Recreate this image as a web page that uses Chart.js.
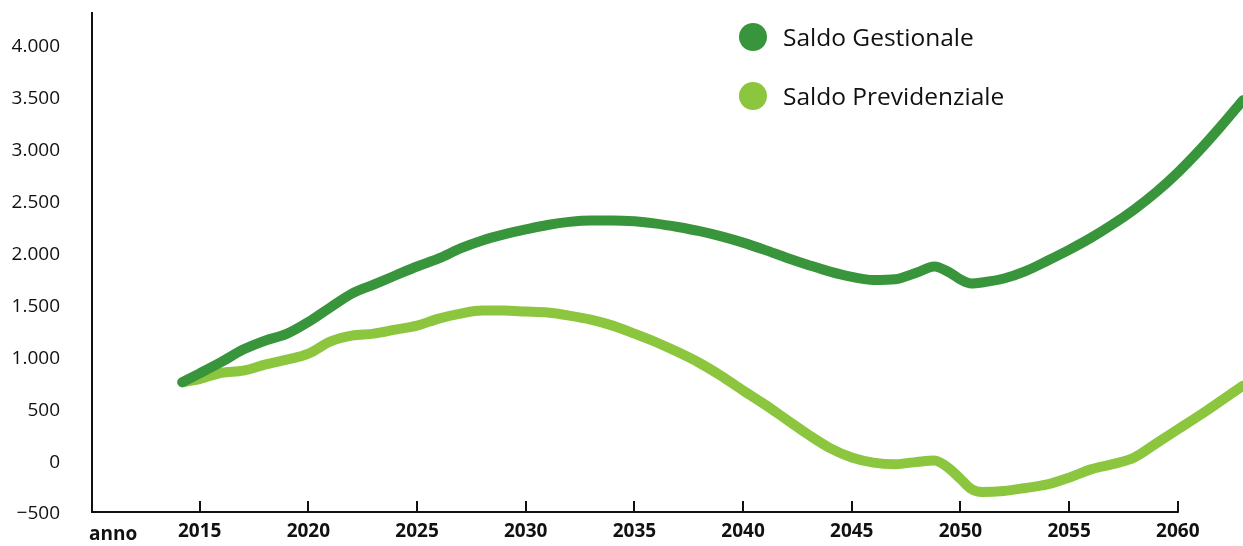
<!DOCTYPE html>
<html lang="it">
<head>
<meta charset="utf-8">
<title>Saldo Gestionale e Previdenziale</title>
<script src="https://cdn.jsdelivr.net/npm/chart.js@4/dist/chart.umd.min.js"></script>
<style>
  html, body { margin: 0; padding: 0; background: #fff; }
  #wrap { position: relative; width: 1243px; height: 546px; }
  #chart { position: absolute; left: 0; top: 0; }
  .legend { position: absolute; left: 739px; top: 22px; font-family: "Open Sans", sans-serif; font-size: 24.5px; color: #111; }
  .legend div { height: 59px; display: flex; align-items: flex-start; }
  .legend span.dot { width: 28px; height: 28px; border-radius: 50%; display: inline-block; margin-right: 16px; margin-top: 1px; }
  .legend span.txt { line-height: 30px; }
  #anno { position: absolute; left: 89px; top: 520px; font-family: "Open Sans", sans-serif; font-size: 19px; font-weight: 700; color: #111; }
</style>
</head>
<body>
<div id="wrap">
  <canvas id="chart" width="1243" height="546"></canvas>
  <div class="legend" id="legend"></div>
  <div id="anno">anno</div>
</div>
<script>
document.addEventListener('DOMContentLoaded', function () {
  // dati
  const years = [2014.2, 2015, 2016, 2017, 2018, 2019, 2020, 2021, 2022, 2023, 2024,
    2025, 2026, 2027, 2028, 2029, 2030, 2031, 2032, 2033, 2034, 2035, 2036, 2037,
    2038, 2039, 2040, 2041, 2042, 2043, 2044, 2045, 2046, 2047, 2048, 2048.8,
    2049.5, 2050, 2050.5, 2051, 2052, 2053, 2054, 2055, 2056, 2057, 2058, 2059,
    2060, 2061, 2062, 2063];

  const saldoGestionale = [770, 855, 965, 1084, 1170, 1235, 1350, 1489, 1624, 1711, 1798,
    1885, 1962, 2059, 2136, 2194, 2242, 2285, 2315, 2329, 2329, 2320, 2298, 2265,
    2225, 2175, 2115, 2045, 1970, 1900, 1835, 1785, 1755, 1762, 1827, 1885,
    1827, 1760, 1721, 1731, 1769, 1840, 1940, 2045, 2160, 2290, 2435, 2600,
    2790, 3005, 3240, 3488];

  const saldoPrevidenziale = [770, 800, 861, 881, 939, 987, 1045, 1161, 1219, 1238, 1277,
    1315, 1383, 1431, 1460, 1460, 1451, 1441, 1412, 1373, 1315, 1238, 1155, 1060,
    955, 830, 690, 555, 410, 265, 135, 45, -5, -20, 2, 15,
    -65, -162, -259, -288, -278, -249, -215, -150, -70, -20, 45, 180,
    315, 450, 593, 736];

  const xTicks = [2015, 2020, 2025, 2030, 2035, 2040, 2045, 2050, 2055, 2060];
  const yTicks = [-500, 0, 500, 1000, 1500, 2000, 2500, 3000, 3500, 4000];

  const seriesNames = ['Saldo Gestionale', 'Saldo Previdenziale'];
  const seriesColors = ['#39953b', '#8cc63f'];

  // legenda in html
  const legendDiv = document.getElementById('legend');
  legendDiv.innerHTML = seriesNames.map((name, i) => `
    <div><span class="dot" style="background:${seriesColors[i]}"></span><span class="txt">${name}</span></div>
  `).join('');

  const toPoints = (vals) => vals.map((v, i) => ({ x: years[i], y: v }));

  // assi disegnati a mano: linea y intera, linea x fino al 2060, tacche verso l'alto
  const axesPlugin = {
    id: 'axes',
    afterDatasetsDraw(chart) {
      const { ctx, chartArea, scales } = chart;
      const left = chartArea.left + 1;
      const bottom = chartArea.bottom - 2;
      ctx.save();
      ctx.strokeStyle = '#111';
      ctx.lineWidth = 2;
      ctx.beginPath();
      ctx.moveTo(left, chartArea.top);
      ctx.lineTo(left, bottom);
      ctx.lineTo(scales.x.getPixelForValue(xTicks[xTicks.length - 1]) + 1, bottom);
      xTicks.forEach(t => {
        const px = Math.round(scales.x.getPixelForValue(t));
        ctx.moveTo(px, bottom);
        ctx.lineTo(px, bottom - 11);
      });
      ctx.stroke();
      ctx.restore();
    }
  };

  new Chart(document.getElementById('chart'), {
    type: 'line',
    data: {
      datasets: [
        {
          label: seriesNames[0],
          data: toPoints(saldoGestionale),
          borderColor: seriesColors[0],
          borderWidth: 10,
          borderCapStyle: 'round',
          borderJoinStyle: 'round',
          cubicInterpolationMode: 'monotone',
          pointRadius: 0
        },
        {
          label: seriesNames[1],
          data: toPoints(saldoPrevidenziale),
          borderColor: seriesColors[1],
          borderWidth: 10,
          borderCapStyle: 'round',
          borderJoinStyle: 'round',
          cubicInterpolationMode: 'monotone',
          pointRadius: 0
        }
      ]
    },
    options: {
      responsive: false,
      animation: false,
      layout: { padding: { top: 12, right: 0, left: 0, bottom: 0 } },
      plugins: {
        legend: { display: false },
        tooltip: { enabled: false }
      },
      scales: {
        x: {
          type: 'linear',
          min: 2010,
          max: 2063,
          afterBuildTicks: (scale) => { scale.ticks = xTicks.map(v => ({ value: v })); },
          afterFit: (scale) => { scale.height = 32; },
          grid: { display: false, drawTicks: false },
          border: { display: false },
          ticks: {
            autoSkip: false,
            maxRotation: 0,
            padding: 6,
            color: '#111',
            font: { family: 'Open Sans', size: 19, weight: 'bold' },
            callback: (v) => String(v)
          }
        },
        y: {
          min: -500,
          max: 4337,
          afterBuildTicks: (scale) => { scale.ticks = yTicks.map(v => ({ value: v })); },
          afterFit: (scale) => { scale.width = 91; },
          grid: { display: true, drawOnChartArea: false, drawTicks: true, tickLength: 31, tickColor: 'rgba(0,0,0,0)' },
          border: { display: false },
          ticks: {
            padding: 0,
            color: '#111',
            font: { family: 'Open Sans', size: 19 },
            callback: (v) => v.toLocaleString('it-IT').replace('-', '\u2212')
          }
        }
      }
    },
    plugins: [axesPlugin]
  });
});
</script>
</body>
</html>
